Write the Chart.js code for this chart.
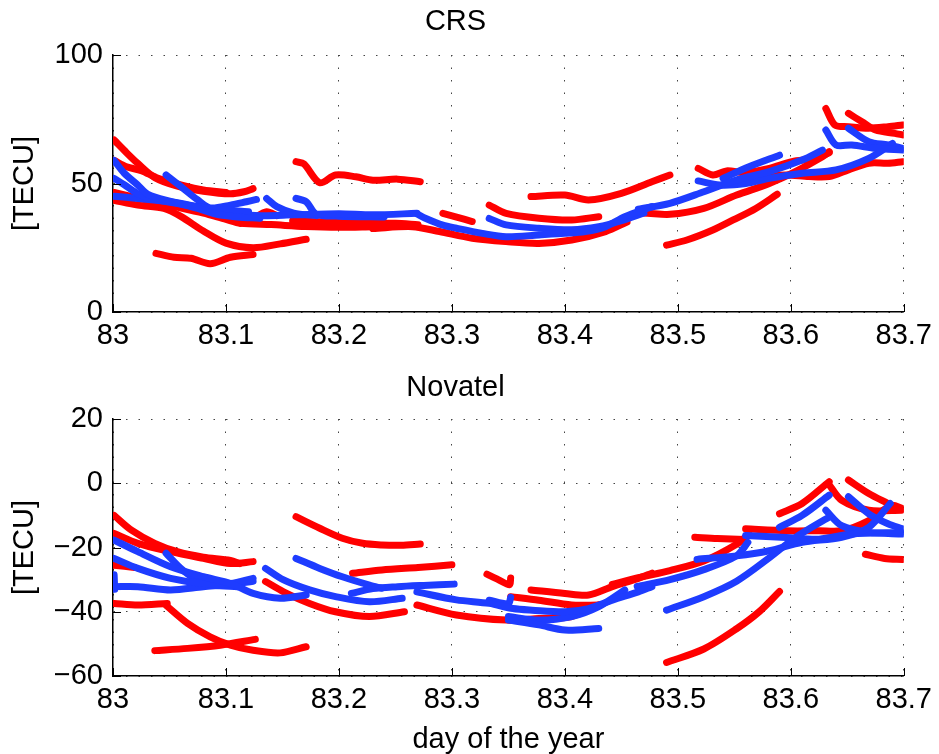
<!DOCTYPE html>
<html>
<head>
<meta charset="utf-8">
<script src="https://cdn.jsdelivr.net/npm/chart.js@4.4.1/dist/chart.umd.min.js"></script>
<style>
  html, body { margin: 0; padding: 0; background: #fff; overflow: hidden; }
  canvas { position: absolute; left: 0; }
  #crs { top: 0; }
  #novatel { top: 360px; }
</style>
</head>
<body>
<canvas id="crs" width="939" height="380"></canvas>
<canvas id="novatel" width="939" height="394"></canvas>
<script>
// TEC arcs per receiver, [day of year, TECU] pairs, one array per arc
var crsRed = [
  [[83.001,66.9],[83.012,62],[83.022,57.8],[83.037,52.3],[83.057,49],[83.08,47],[83.104,46],[83.116,46.8],[83.124,48]],
  [[83.001,59],[83.012,56.5],[83.025,55],[83.04,52],[83.06,49.5],[83.08,47.5],[83.1,46.5]],
  [[83.001,43.5],[83.022,41.6],[83.045,40.3],[83.06,37.2],[83.08,31.5],[83.1,26.8],[83.124,25],[83.148,26.5],[83.171,28.3]],
  [[83.038,22.8],[83.054,21.3],[83.069,20.9],[83.086,18.8],[83.104,21.3],[83.124,22.4]],
  [[83.162,58.5],[83.169,57.6],[83.183,50.3],[83.197,53.3],[83.215,52.6],[83.23,51.3],[83.252,51.7],[83.272,50.7]],
  [[83.001,46.5],[83.025,44],[83.05,41.5],[83.08,38.5],[83.1,36],[83.113,34.5],[83.14,34],[83.17,33.3],[83.2,33],[83.23,33.2]],
  [[83.113,34.5],[83.124,36.4],[83.136,39],[83.145,37.5]],
  [[83.159,35.5],[83.19,35],[83.22,34.5],[83.25,34.5],[83.27,34]],
  [[83.23,32.5],[83.265,33.2],[83.289,31.3],[83.318,28.7],[83.348,27.4],[83.377,26.7],[83.406,28],[83.436,31.3],[83.455,35]],
  [[83.292,38.4],[83.305,36.8],[83.318,35.2]],
  [[83.333,41.6],[83.348,38.4],[83.377,36.5],[83.406,35.8],[83.43,37.1]],
  [[83.37,44.9],[83.4,45.5],[83.421,43.6],[83.45,46.2],[83.477,50.7],[83.493,53.3]],
  [[83.49,26],[83.508,28],[83.531,31.9],[83.549,35.8],[83.569,40.3],[83.588,45.8]],
  [[83.518,55.9],[83.531,53.3],[83.543,54.9],[83.56,54.3],[83.581,55.9],[83.601,58.5],[83.622,59.8],[83.634,62]],
  [[83.631,79.2],[83.639,72.8],[83.651,72.1],[83.669,71.5],[83.686,72.1],[83.699,72.8]],
  [[83.651,77.3],[83.663,74],[83.675,70.8],[83.692,69.5],[83.699,68.9]],
  [[83.566,52.7],[83.596,53.3],[83.616,52.7],[83.634,52.7],[83.651,55.3],[83.669,57.9],[83.686,57.9],[83.699,58.5]],
  [[83.455,36],[83.464,38.4],[83.493,38],[83.523,40.3],[83.552,45.5],[83.581,50],[83.604,54.6],[83.628,60.4],[83.634,62.4]]
];
var crsBlue = [
  [[83.001,59],[83.01,54],[83.022,49.4],[83.031,45.8],[83.051,43],[83.075,40.3],[83.092,38],[83.11,37],[83.13,36.5]],
  [[83.001,52],[83.01,49.5],[83.022,46],[83.035,44],[83.06,42],[83.09,40],[83.12,39]],
  [[83.001,45],[83.022,44.2],[83.051,42.9],[83.08,40.5],[83.1,38.5],[83.13,37.5],[83.16,37.8],[83.2,38.2],[83.23,37.8],[83.269,38.4]],
  [[83.047,53.3],[83.06,48.8],[83.075,43.6],[83.086,40.5],[83.104,41.6],[83.118,42.9],[83.127,43.8]],
  [[83.136,44.2],[83.145,41],[83.16,38.5],[83.18,37.5]],
  [[83.162,44.2],[83.171,42.9],[83.18,38],[83.2,37.3],[83.24,37]],
  [[83.269,38.2],[83.277,36.4],[83.292,33.8],[83.304,32.6],[83.327,30.6],[83.348,29.3],[83.377,30],[83.4,30.6],[83.418,31.3],[83.436,33.2],[83.453,37.1],[83.477,41]],
  [[83.333,36.4],[83.348,33.9],[83.377,32.6],[83.406,32],[83.43,33.2],[83.45,35.5],[83.47,38.5]],
  [[83.465,40],[83.493,42.3],[83.523,46.8],[83.552,51.4],[83.581,54.6],[83.61,59.1],[83.628,63]],
  [[83.631,70.8],[83.64,65],[83.654,65],[83.675,63.7],[83.699,63]],
  [[83.651,71.5],[83.669,66.3],[83.686,65],[83.699,63.7]],
  [[83.518,51],[83.537,49.4],[83.56,50],[83.581,52],[83.61,54],[83.64,55.3],[83.669,59.8],[83.69,65.6]],
  [[83.54,52],[83.563,56.5],[83.59,61]]
];
var novRed = [
  [[83.001,-10],[83.016,-14.5],[83.037,-18.7],[83.057,-21.3],[83.08,-23],[83.104,-24],[83.112,-25]],
  [[83.001,-15.6],[83.022,-18.7],[83.051,-21.3],[83.08,-23.4],[83.104,-25],[83.124,-24.4]],
  [[83.001,-25.5],[83.019,-26.2]],
  [[83.001,-37.4],[83.022,-37.9],[83.048,-37.4]],
  [[83.047,-38],[83.066,-43.6],[83.086,-47.8],[83.104,-50.4],[83.124,-52],[83.148,-52.8],[83.171,-50.9]],
  [[83.037,-52.1],[83.066,-51.4],[83.095,-50.4],[83.126,-48.6]],
  [[83.162,-10.4],[83.183,-14],[83.203,-17.1],[83.221,-18.7],[83.238,-19.2],[83.255,-19.3],[83.272,-18.9]],
  [[83.135,-30.6],[83.151,-33.8],[83.174,-37.4],[83.197,-40],[83.227,-41.5],[83.258,-40]],
  [[83.212,-28],[83.238,-27],[83.27,-26.2],[83.3,-25.4]],
  [[83.269,-37.9],[83.304,-41],[83.348,-42.6],[83.377,-42.1],[83.406,-41.5],[83.43,-37.9]],
  [[83.331,-28.3],[83.341,-30],[83.351,-31.6],[83.352,-29.5]],
  [[83.352,-35.3],[83.377,-36.4],[83.406,-37.9],[83.43,-37.9]],
  [[83.37,-33.2],[83.4,-34.3],[83.421,-34.8],[83.442,-32.2],[83.465,-29.6],[83.477,-28]],
  [[83.442,-31.5],[83.464,-29.5],[83.493,-27.2],[83.523,-24.2],[83.552,-19],[83.563,-15.8]],
  [[83.515,-16.8],[83.535,-17.2],[83.559,-17.5]],
  [[83.56,-14.2],[83.596,-14.8],[83.625,-14.8],[83.645,-14.8],[83.669,-11.6],[83.689,-6.9],[83.699,-7.9]],
  [[83.59,-9.5],[83.61,-6.3],[83.634,0.5]],
  [[83.634,-0.5],[83.645,-5.3],[83.669,-8.4],[83.698,-8.4]],
  [[83.651,1],[83.669,-3.2],[83.686,-6.3]],
  [[83.666,-22.1],[83.683,-23.4],[83.699,-23.7]],
  [[83.49,-55.8],[83.523,-51.6],[83.552,-45.3],[83.572,-40],[83.59,-33.7]]
];
var novBlue = [
  [[83.001,-17.7],[83.022,-21.3],[83.051,-26],[83.08,-29.1],[83.104,-31.2],[83.124,-34.3],[83.148,-35.8],[83.171,-34.8]],
  [[83.001,-23.4],[83.022,-26.5],[83.051,-29.6],[83.08,-31.2],[83.104,-31.2],[83.124,-29.6]],
  [[83.001,-32.2],[83.022,-32.2],[83.051,-33.2],[83.08,-32.2],[83.104,-31.5],[83.124,-30.5]],
  [[83.001,-28.5],[83.0015,-33]],
  [[83.047,-21.8],[83.06,-26.5],[83.072,-29.6],[83.089,-31.7],[83.11,-32.2]],
  [[83.135,-26.5],[83.151,-30.1],[83.174,-33.2],[83.197,-35.3],[83.227,-36.9],[83.256,-35.8]],
  [[83.162,-23.4],[83.183,-26.5],[83.203,-29.1],[83.227,-31.7],[83.238,-32.7]],
  [[83.211,-34.3],[83.23,-32.8],[83.252,-32.2],[83.275,-31.8],[83.302,-31.4]],
  [[83.269,-33.8],[83.304,-36.3],[83.333,-37.4],[83.354,-39],[83.371,-39.5],[83.4,-40],[83.421,-39],[83.442,-36.4],[83.465,-33.8],[83.477,-32.2]],
  [[83.35,-42.6],[83.377,-44.1],[83.4,-45.7],[83.43,-45.2]],
  [[83.35,-41.5],[83.377,-42.6],[83.406,-41.5],[83.43,-38.4],[83.453,-33.2]],
  [[83.464,-32.1],[83.493,-30],[83.523,-26.9],[83.552,-22.6],[83.562,-18.4]],
  [[83.49,-39.5],[83.523,-35.3],[83.552,-30.5],[83.581,-23.2],[83.604,-16.9],[83.634,-10.5]],
  [[83.517,-23.7],[83.552,-22.6],[83.581,-21],[83.61,-18.4],[83.645,-16.8],[83.669,-13.7],[83.688,-6.3]],
  [[83.56,-16.3],[83.596,-16.9],[83.625,-17.4],[83.654,-15.8],[83.698,-15.3]],
  [[83.59,-13.7],[83.61,-10],[83.634,-3.7]],
  [[83.651,-4.2],[83.669,-9.5],[83.686,-12.6],[83.699,-14.2]],
  [[83.631,-8.4],[83.645,-13.2],[83.669,-15.3],[83.699,-15.8]],
  [[83.333,-36.4],[83.35,-37.5],[83.352,-35.5]]
];

var RED = '#ff0000', BLUE = '#1e3cff';
var FONT = '"Liberation Sans", Arial, Helvetica, sans-serif';

function arcs(segs, color) {
  return segs.map(function(s) {
    return {
      data: s.map(function(p) { return {x: p[0], y: p[1]}; }),
      showLine: true,
      borderColor: color,
      borderWidth: 7,
      borderCapStyle: 'round',
      borderJoinStyle: 'round',
      tension: 0.3,
      pointRadius: 0
    };
  });
}

// matlab-like ticks pointing into the axes
var innerTicks = {
  id: 'innerTicks',
  afterDraw: function(chart) {
    var ctx = chart.ctx, a = chart.chartArea;
    var x = chart.scales.x, y = chart.scales.y;
    ctx.save();
    ctx.strokeStyle = '#000';
    ctx.lineWidth = 1;
    ctx.beginPath();
    x.ticks.forEach(function(t) {
      var px = Math.round(x.getPixelForValue(t.value)) + 0.5;
      ctx.moveTo(px, a.bottom);
      ctx.lineTo(px, a.bottom - 8);
    });
    y.ticks.forEach(function(t) {
      var py = Math.round(y.getPixelForValue(t.value)) + 0.5;
      ctx.moveTo(a.left, py);
      ctx.lineTo(a.left + 8, py);
    });
    ctx.stroke();
    ctx.restore();
  }
};

function makeChart(id, title, red, blue, yMin, yMax, yStep, opts) {
  var font = {family: FONT, size: 29};
  var grid = {color: '#444', lineWidth: 1, drawTicks: false};
  var border = {color: '#000', width: 1.5, dash: [1.5, 11]};
  return new Chart(document.getElementById(id), {
    type: 'scatter',
    data: {datasets: arcs(blue, BLUE).concat(arcs(red, RED))},
    options: {
      responsive: false,
      animation: false,
      layout: {padding: {left: 0, right: 28, top: 0, bottom: 0}},
      plugins: {
        legend: {display: false},
        tooltip: {enabled: false},
        title: {
          display: true, text: title, color: '#000',
          font: {family: FONT, size: 29, weight: 'normal', lineHeight: 1.2},
          padding: opts.titlePad
        }
      },
      scales: {
        x: {
          type: 'linear', min: 83, max: 83.7,
          grid: grid, border: border,
          ticks: {
            stepSize: 0.1, color: '#000', font: font, padding: 7, maxRotation: 0,
            callback: function(v) { return String(Math.round(v * 10) / 10); }
          },
          title: {
            display: !!opts.xTitle, text: opts.xTitle || '', color: '#000',
            font: {family: FONT, size: 29, lineHeight: 1}, padding: {top: 0, bottom: 0}
          },
          afterFit: function(s) { s.height = opts.xHeight; }
        },
        y: {
          type: 'linear', min: yMin, max: yMax,
          grid: grid, border: border,
          ticks: {
            stepSize: yStep, color: '#000', font: font, padding: 10,
            callback: function(v) { return v < 0 ? '\u2212' + (-v) : String(v); }
          },
          title: {
            display: true, text: '[TECU]', color: '#000',
            font: {family: FONT, size: 29, lineHeight: 1.2}, padding: {top: 7.6, bottom: 0}
          },
          afterFit: function(s) { s.width = 113; }
        }
      }
    },
    plugins: [innerTicks]
  });
}

makeChart('crs', 'CRS', crsRed, crsBlue, 0, 100, 50,
  {titlePad: {top: 5, bottom: 15.2}, xHeight: 68});
makeChart('novatel', 'Novatel', novRed, novBlue, -60, 20, 20,
  {titlePad: {top: 10.6, bottom: 13.6}, xHeight: 78, xTitle: 'day of the year'});
</script>
</body>
</html>
